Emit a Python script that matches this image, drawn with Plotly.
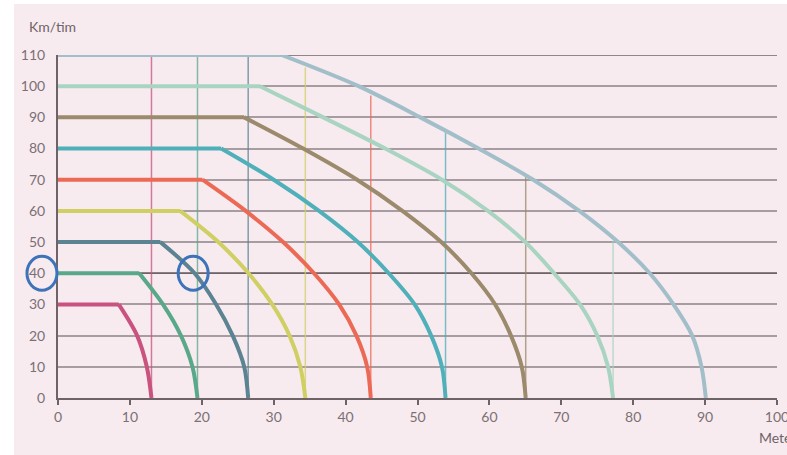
import plotly.graph_objects as go

# speed (km/h) for each curve
speeds = [30, 40, 50, 60, 70, 80, 90, 100, 110]
# distance (m) where the reaction (flat) part ends
reaction_end = [8.45, 11.3, 14.25, 17.0, 20.1, 22.7, 25.9, 28.1, 31.1]
# braking part: distance (m) read at speed - 10, speed - 20, ... , 0 km/h
brake_x = [
    [11.0, 12.35, 13.0],
    [14.6, 17.1, 18.7, 19.4],
    [19.0, 22.0, 24.3, 25.9, 26.45],
    [22.3, 26.5, 29.8, 32.2, 33.7, 34.4],
    [26.1, 31.3, 35.6, 39.1, 41.5, 43.0, 43.5],
    [30.0, 36.3, 41.7, 46.0, 49.6, 51.9, 53.4, 53.9],
    [34.1, 41.6, 47.9, 53.3, 57.5, 60.8, 63.0, 64.5, 65.05],
    [36.9, 45.5, 53.4, 59.8, 65.0, 69.0, 72.6, 75.0, 76.5, 77.2],
    [41.8, 50.4, 58.5, 66.1, 72.5, 77.9, 82.3, 85.6, 88.2, 89.5, 90.1],
]
# thin vertical guides at each stopping distance, up to the 110 curve
guide_x = [13.0, 19.4, 26.45, 34.4, 43.5, 53.9, 65.05, 77.2]
guide_top = [110, 110, 110, 106, 97, 86, 71, 50.5]

colors = ['#c9527f', '#5aa88a', '#5b8391', '#cfcf63', '#ec6a55',
          '#4fb0b9', '#9b8a6c', '#a9d4c2', '#a2bfc9']

dark_grid = [40, 110]
ring_y = 40
ring_x = 18.8

PINK = '#f8ebf0'
DARK = '#6e6468'

fig = go.Figure()

# vertical guides first so the curves sit on top
for gx, top, c in zip(guide_x, guide_top, colors):
    fig.add_trace(go.Scatter(x=[gx, gx], y=[0, top], mode='lines',
                             line=dict(color=c, width=1.5), opacity=0.75,
                             hoverinfo='skip', showlegend=False))

for v, xr, bx, c in zip(speeds, reaction_end, brake_x, colors):
    ys = list(range(v - 10, -1, -10))
    # flat reaction part
    fig.add_trace(go.Scatter(x=[0, xr], y=[v, v], mode='lines',
                             line=dict(color=c, width=4), showlegend=False))
    # braking curve
    fig.add_trace(go.Scatter(x=[xr] + bx, y=[v] + ys, mode='lines',
                             line=dict(color=c, width=4, shape='spline', smoothing=0.9),
                             showlegend=False))

shapes = [
    dict(type='rect', xref='paper', yref='paper', x0=-0.0612, x1=1.05, y0=-0.2, y1=1.1487,
         fillcolor=PINK, line=dict(width=0), layer='below'),
]
for gy in dark_grid:
    shapes.append(dict(type='line', xref='x', yref='y', x0=0, x1=100, y0=gy, y1=gy,
                       line=dict(color=DARK, width=1.5), layer='between'))
# blue highlight rings
shapes.append(dict(type='circle', xref='paper', yref='y', xsizemode='pixel', ysizemode='pixel',
                   xanchor=-0.0223, yanchor=ring_y, x0=-15, x1=15, y0=-17, y1=17,
                   line=dict(color='#3d73b8', width=3)))
shapes.append(dict(type='circle', xref='x', yref='y', xsizemode='pixel', ysizemode='pixel',
                   xanchor=ring_x, yanchor=ring_y, x0=-15, x1=15, y0=-17, y1=17,
                   line=dict(color='#3d73b8', width=3)))

fig.update_layout(
    width=787, height=455,
    margin=dict(l=58, r=10, t=55, b=57),
    paper_bgcolor='white',
    plot_bgcolor='rgba(0,0,0,0)',
    font=dict(family='Lato, Open Sans, sans-serif', size=14, color='#7a7075'),
    shapes=shapes,
    annotations=[
        dict(text='Km/tim', xref='paper', yref='paper', x=-0.0431, y=1.0845,
             xanchor='left', yanchor='middle', showarrow=False,
             font=dict(size=14, color=DARK)),
        dict(text='Meter', xref='paper', yref='paper', x=0.9718, y=-0.1166,
             xanchor='left', yanchor='middle', showarrow=False,
             font=dict(size=14, color=DARK)),
    ],
)
fig.update_xaxes(range=[0, 100], dtick=10, showgrid=False, zeroline=False,
                 showline=True, linecolor=DARK, linewidth=2,
                 ticks='outside', ticklen=5, tickwidth=1.5, tickcolor=DARK,
                 ticklabeloverflow='allow', automargin=False)
fig.update_yaxes(range=[0, 110], dtick=10, showgrid=True, gridcolor='#a79ca1', gridwidth=1.5,
                 zeroline=False, showline=True, linecolor=DARK, linewidth=2,
                 ticks='', ticklabelstandoff=8, automargin=False)

# drop the default page margin so the figure fills the window
fig.write_html("out.html", config={'displayModeBar': False},
               post_script="document.body.style.margin='0px';")
